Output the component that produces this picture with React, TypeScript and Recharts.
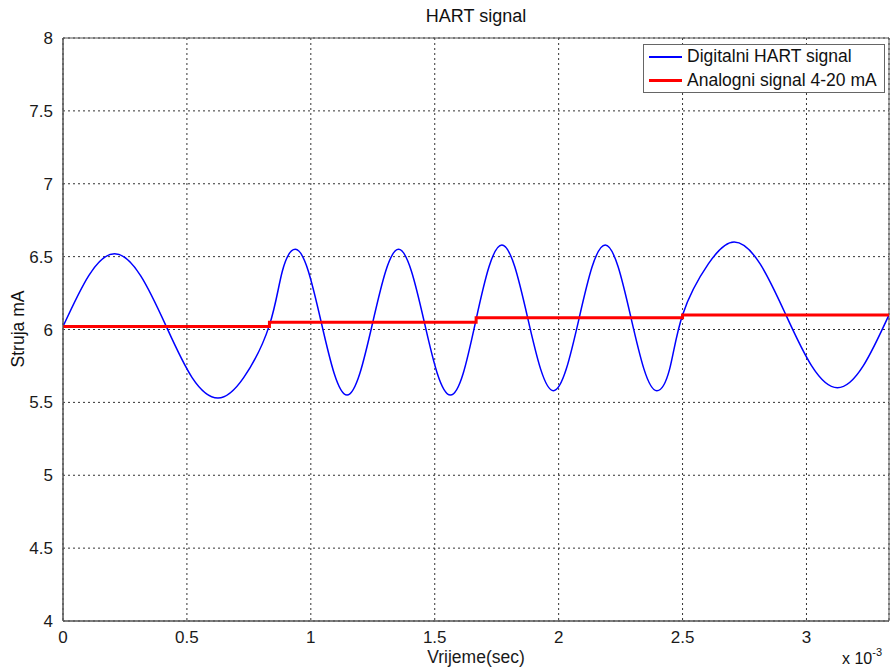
import React from "react";
import { LineChart, Line, XAxis, YAxis, CartesianGrid, ReferenceArea } from "recharts";

// vrijeme u ms (os prikazuje x 10^-3 s)
const digitalTime = [
  0, 0.104, 0.208, 0.313, 0.417, 0.521, 0.625, 0.729, 0.833,
  0.885, 0.938, 0.99, 1.042, 1.094, 1.146, 1.198, 1.25, 1.302, 1.354, 1.406, 1.458, 1.51, 1.563, 1.615, 1.667,
  1.719, 1.771, 1.823, 1.875, 1.927, 1.979, 2.031, 2.083, 2.135, 2.188, 2.24, 2.292, 2.344, 2.396, 2.448, 2.5,
  2.604, 2.708, 2.813, 2.917, 3.021, 3.125, 3.229, 3.333,
];
const digitalCurrent = [
  6.02, 6.37, 6.52, 6.37, 6.02, 5.67, 5.53, 5.67, 6.03,
  6.4, 6.55, 6.4, 6.05, 5.7, 5.55, 5.7, 6.05, 6.4, 6.55, 6.4, 6.05, 5.7, 5.55, 5.7, 6.07,
  6.43, 6.58, 6.43, 6.08, 5.73, 5.58, 5.73, 6.08, 6.43, 6.58, 6.43, 6.08, 5.73, 5.58, 5.73, 6.1,
  6.45, 6.6, 6.45, 6.1, 5.75, 5.6, 5.75, 6.1,
];

const analogTime = [0, 0.833, 1.667, 2.5, 3.333];
const analogCurrent = [6.02, 6.05, 6.08, 6.1, 6.1];

const xTicks = [0, 0.5, 1, 1.5, 2, 2.5, 3];
const yTicks = [4, 4.5, 5, 5.5, 6, 6.5, 7, 7.5, 8];

const digitalData = digitalTime.map((t, i) => ({ t, v: digitalCurrent[i] }));
const analogData = analogTime.map((t, i) => ({ t, v: analogCurrent[i] }));

const FONT = '"Liberation Sans", Arial, sans-serif';
const tickStyle = { fontSize: 17, fill: "#1a1a1a", fontFamily: FONT };

function LegendBox() {
  const rows = [
    { label: "Digitalni HART signal", color: "#0000ff", w: 1.5 },
    { label: "Analogni signal 4-20 mA", color: "#ff0000", w: 3 },
  ];
  return (
    <div
      style={{
        position: "absolute",
        left: 643,
        top: 44,
        width: 242,
        height: 49,
        boxSizing: "border-box",
        border: "1px solid #666",
        background: "#fff",
        padding: "0 0 0 5px",
        fontFamily: FONT,
        fontSize: 17.5,
        color: "#111",
      }}
    >
      {rows.map((r) => (
        <div key={r.label} style={{ display: "flex", alignItems: "center", height: 23.5 }}>
          <div style={{ width: 33, height: r.w, background: r.color, marginRight: 5 }} />
          <span style={{ whiteSpace: "nowrap" }}>{r.label}</span>
        </div>
      ))}
    </div>
  );
}

export default function App() {
  return (
    <div style={{ position: "absolute", left: 0, top: 0, width: 890, height: 667, background: "#fff" }}>
      <LineChart
        width={890}
        height={667}
        margin={{ top: 38, right: 1, left: 0, bottom: 0 }}
        style={{ position: "absolute", left: 0, top: 0 }}
      >
        <CartesianGrid stroke="#333" strokeDasharray="2 3" strokeWidth={1} />
        <XAxis
          dataKey="t"
          type="number"
          domain={[0, 3.333]}
          ticks={xTicks}
          allowDataOverflow
          height={46}
          stroke="#555"
          tickLine={false}
          tick={tickStyle}
          tickMargin={4}
          label={{ value: "Vrijeme(sec)", position: "insideBottom", offset: 4, style: { ...tickStyle, fontSize: 17.5 } }}
        />
        <YAxis
          type="number"
          domain={[4, 8]}
          ticks={yTicks}
          width={63}
          stroke="#555"
          tickLine={false}
          tick={tickStyle}
          tickMargin={4}
        />
        <ReferenceArea x1={0} x2={3.333} y1={4} y2={8} fill="none" stroke="#555" strokeWidth={1} />
        <Line
          data={digitalData}
          dataKey="v"
          type="natural"
          stroke="#0000ff"
          strokeWidth={1.5}
          dot={false}
          isAnimationActive={false}
        />
        <Line
          data={analogData}
          dataKey="v"
          type="stepAfter"
          stroke="#ff0000"
          strokeWidth={3}
          dot={false}
          isAnimationActive={false}
        />
      </LineChart>
      <div
        style={{
          position: "absolute",
          left: 63,
          width: 826,
          top: 6,
          textAlign: "center",
          fontFamily: FONT,
          fontSize: 18,
          color: "#111",
        }}
      >
        HART signal
      </div>
      <div
        style={{
          position: "absolute",
          left: 18,
          top: 329,
          transform: "translate(-50%, -50%) rotate(-90deg)",
          fontFamily: FONT,
          fontSize: 17.5,
          color: "#111",
          whiteSpace: "nowrap",
        }}
      >
        Struja mA
      </div>
      <div
        style={{
          position: "absolute",
          left: 842,
          top: 648,
          fontFamily: FONT,
          fontSize: 16,
          color: "#111",
          whiteSpace: "nowrap",
        }}
      >
        x 10<sup style={{ fontSize: 11, position: "relative", top: -2 }}>-3</sup>
      </div>
      <LegendBox />
    </div>
  );
}
